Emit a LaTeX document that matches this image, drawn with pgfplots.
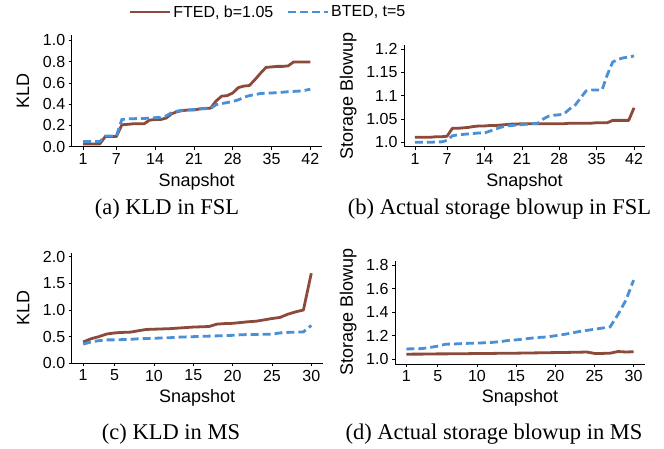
\documentclass[border=0pt]{standalone}
\usepackage{pgfplots}
\usepackage{pgfplotstable}
\pgfplotsset{compat=1.18}
\usepackage{fontspec}
\setmainfont{Liberation Serif}
\setsansfont{Liberation Sans}

\definecolor{ftedc}{RGB}{139,74,58}
\definecolor{btedc}{RGB}{74,144,214}

% snapshot, FTED (b=1.05), BTED (t=5)
\pgfplotstableread{
s fted bted
1 0.025 0.048
2 0.025 0.048
3 0.025 0.048
4 0.025 0.048
5 0.095 0.100
6 0.095 0.100
7 0.095 0.100
8 0.206 0.255
9 0.210 0.262
10 0.215 0.263
11 0.215 0.265
12 0.215 0.265
13 0.250 0.270
14 0.255 0.273
15 0.255 0.275
16 0.270 0.290
17 0.310 0.320
18 0.330 0.335
19 0.340 0.343
20 0.345 0.345
21 0.345 0.350
22 0.355 0.355
23 0.360 0.358
24 0.362 0.360
25 0.430 0.395
26 0.475 0.405
27 0.480 0.415
28 0.505 0.425
29 0.555 0.440
30 0.570 0.465
31 0.575 0.480
32 0.630 0.490
33 0.690 0.500
34 0.745 0.503
35 0.750 0.505
36 0.755 0.508
37 0.755 0.512
38 0.760 0.517
39 0.797 0.520
40 0.797 0.523
41 0.797 0.530
42 0.797 0.540
}\kldfsl

\pgfplotstableread{
s fted bted
1 1.011 1.000
2 1.011 1.000
3 1.011 1.000
4 1.011 1.000
5 1.012 1.001
6 1.012 1.001
7 1.013 1.004
8 1.030 1.014
9 1.030 1.016
10 1.031 1.017
11 1.032 1.018
12 1.034 1.019
13 1.035 1.020
14 1.035 1.020
15 1.036 1.024
16 1.036 1.028
17 1.037 1.032
18 1.038 1.035
19 1.039 1.036
20 1.039 1.037
21 1.040 1.038
22 1.040 1.039
23 1.040 1.040
24 1.040 1.041
25 1.040 1.050
26 1.040 1.056
27 1.040 1.058
28 1.040 1.059
29 1.040 1.062
30 1.041 1.072
31 1.041 1.080
32 1.041 1.095
33 1.041 1.110
34 1.041 1.112
35 1.042 1.112
36 1.042 1.112
37 1.042 1.145
38 1.047 1.172
39 1.047 1.178
40 1.047 1.181
41 1.047 1.183
42 1.074 1.185
}\sbfsl

\pgfplotstableread{
s fted bted
1 0.400 0.360
2 0.460 0.400
3 0.500 0.425
4 0.550 0.440
5 0.570 0.440
6 0.580 0.445
7 0.585 0.450
8 0.610 0.460
9 0.635 0.465
10 0.640 0.470
11 0.645 0.475
12 0.650 0.480
13 0.660 0.490
14 0.670 0.495
15 0.680 0.500
16 0.685 0.505
17 0.690 0.510
18 0.735 0.515
19 0.745 0.520
20 0.750 0.525
21 0.765 0.535
22 0.780 0.540
23 0.790 0.542
24 0.815 0.544
25 0.840 0.545
26 0.860 0.570
27 0.920 0.580
28 0.965 0.585
29 1.000 0.590
30 1.690 0.710
}\kldms

\pgfplotstableread{
s fted bted
1 1.043 1.088
2 1.044 1.089
3 1.044 1.091
4 1.045 1.100
5 1.046 1.112
6 1.046 1.128
7 1.047 1.130
8 1.047 1.133
9 1.048 1.136
10 1.049 1.138
11 1.050 1.140
12 1.050 1.144
13 1.051 1.150
14 1.052 1.160
15 1.052 1.165
16 1.053 1.172
17 1.054 1.180
18 1.055 1.186
19 1.056 1.190
20 1.057 1.200
21 1.058 1.210
22 1.059 1.222
23 1.060 1.235
24 1.062 1.245
25 1.050 1.255
26 1.050 1.265
27 1.052 1.275
28 1.066 1.380
29 1.062 1.500
30 1.064 1.672
}\sbms

\pgfplotsset{
  panel/.style={
    scale only axis,
    axis x line*=bottom, axis y line*=left,
    axis line style={-, line width=0.8pt},
    tick align=outside,
    major tick length=3pt,
    major tick style={black, line width=0.6pt},
    ticklabel style={font=\sffamily\fontsize{16}{18}\selectfont},
    /pgf/number format/assume math mode=true,
    label style={font=\sffamily\fontsize{18}{20}\selectfont},
    xlabel={Snapshot},
    clip=false,
  },
  ftedline/.style={color=ftedc, line width=2.8pt, line join=round},
  btedline/.style={color=btedc, line width=2.8pt, dash pattern=on 8pt off 4pt},
}

\begin{document}
\begin{tikzpicture}
\path[use as bounding box] (0pt,0pt) rectangle (664pt,-448pt);

% (a)
\begin{axis}[panel,
  at={(71.7pt,-146.7pt)}, anchor=south west,
  width=250pt, height=111.7pt,
  xmin=-1.05, xmax=44.05, ymin=0, ymax=1.05,
  xtick={1,7,14,21,28,35,42},
  ytick={0,0.2,0.4,0.6,0.8,1.0},
  yticklabel style={/pgf/number format/.cd, fixed, fixed zerofill, precision=1},
  ylabel={KLD},
  xlabel style={at={(axis description cs:0.5,0)}, anchor=center, yshift=-35pt},
  ylabel style={at={(axis description cs:0,0.5)}, anchor=center, yshift=48.7pt},
  legend columns=2,
  legend style={at={(0.785,1.206)}, anchor=center, draw=none, fill=none,
    font=\sffamily\fontsize{16}{18}\selectfont,
    /tikz/every even column/.append style={column sep=11pt}},
  legend image code/.code={\draw[#1] (0pt,0pt) -- (40pt,0pt);},
]
\addplot[ftedline] table[x=s, y=fted] {\kldfsl};
\addlegendentry{FTED, b=1.05}
\addplot[btedline] table[x=s, y=bted] {\kldfsl};
\addlegendentry{BTED, t=5}
\end{axis}

% (b)
\begin{axis}[panel,
  at={(404pt,-146.7pt)}, anchor=south west,
  width=241pt, height=101.7pt,
  xmin=-1.05, xmax=44.05, ymin=0.9906, ymax=1.2086,
  xtick={1,7,14,21,28,35,42},
  ytick={1.0,1.05,1.1,1.15,1.2},
  yticklabels={1.0,1.05,1.1,1.15,1.2},
  ylabel={Storage Blowup},
  xlabel style={at={(axis description cs:0.5,0)}, anchor=center, yshift=-35pt},
  ylabel style={at={(axis description cs:0,0.5)}, anchor=center, yshift=55.7pt},
]
\addplot[ftedline] table[x=s, y=fted] {\sbfsl};
\addplot[btedline] table[x=s, y=bted] {\sbfsl};
\end{axis}

% (c)
\begin{axis}[panel,
  at={(71.7pt,-363.3pt)}, anchor=south west,
  width=251pt, height=110.6pt,
  xmin=-0.45, xmax=31.45, ymin=0, ymax=2.075,
  xtick={1,5,10,15,20,25,30},
  ytick={0,0.5,1.0,1.5,2.0},
  yticklabel style={/pgf/number format/.cd, fixed, fixed zerofill, precision=1},
  ylabel={KLD},
  xlabel style={at={(axis description cs:0.5,0)}, anchor=center, yshift=-35pt},
  ylabel style={at={(axis description cs:0,0.5)}, anchor=center, yshift=48.4pt},
]
\addplot[ftedline] table[x=s, y=fted] {\kldms};
\addplot[btedline] table[x=s, y=bted] {\kldms};
\end{axis}

% (d)
\begin{axis}[panel,
  at={(395pt,-364pt)}, anchor=south west,
  width=250pt, height=103.3pt,
  xmin=-0.45, xmax=31.45, ymin=0.96, ymax=1.837,
  xtick={1,5,10,15,20,25,30},
  ytick={1.0,1.2,1.4,1.6,1.8},
  yticklabel style={/pgf/number format/.cd, fixed, fixed zerofill, precision=1},
  ylabel={Storage Blowup},
  xlabel style={at={(axis description cs:0.5,0)}, anchor=center, yshift=-34.3pt},
  ylabel style={at={(axis description cs:0,0.5)}, anchor=center, yshift=46.7pt},
]
\addplot[ftedline] table[x=s, y=fted] {\sbms};
\addplot[btedline] table[x=s, y=bted] {\sbms};
\end{axis}

\begin{scope}[every node/.style={font=\fontsize{22.5}{25}\selectfont, inner sep=0pt}]
\node at (167pt,-209pt) {(a) KLD in FSL};
\node at (499.5pt,-209pt) {(b) Actual storage blowup in FSL};
\node at (171pt,-434pt) {(c) KLD in MS};
\node at (494pt,-434pt) {(d) Actual storage blowup in MS};
\end{scope}
\end{tikzpicture}
\end{document}
